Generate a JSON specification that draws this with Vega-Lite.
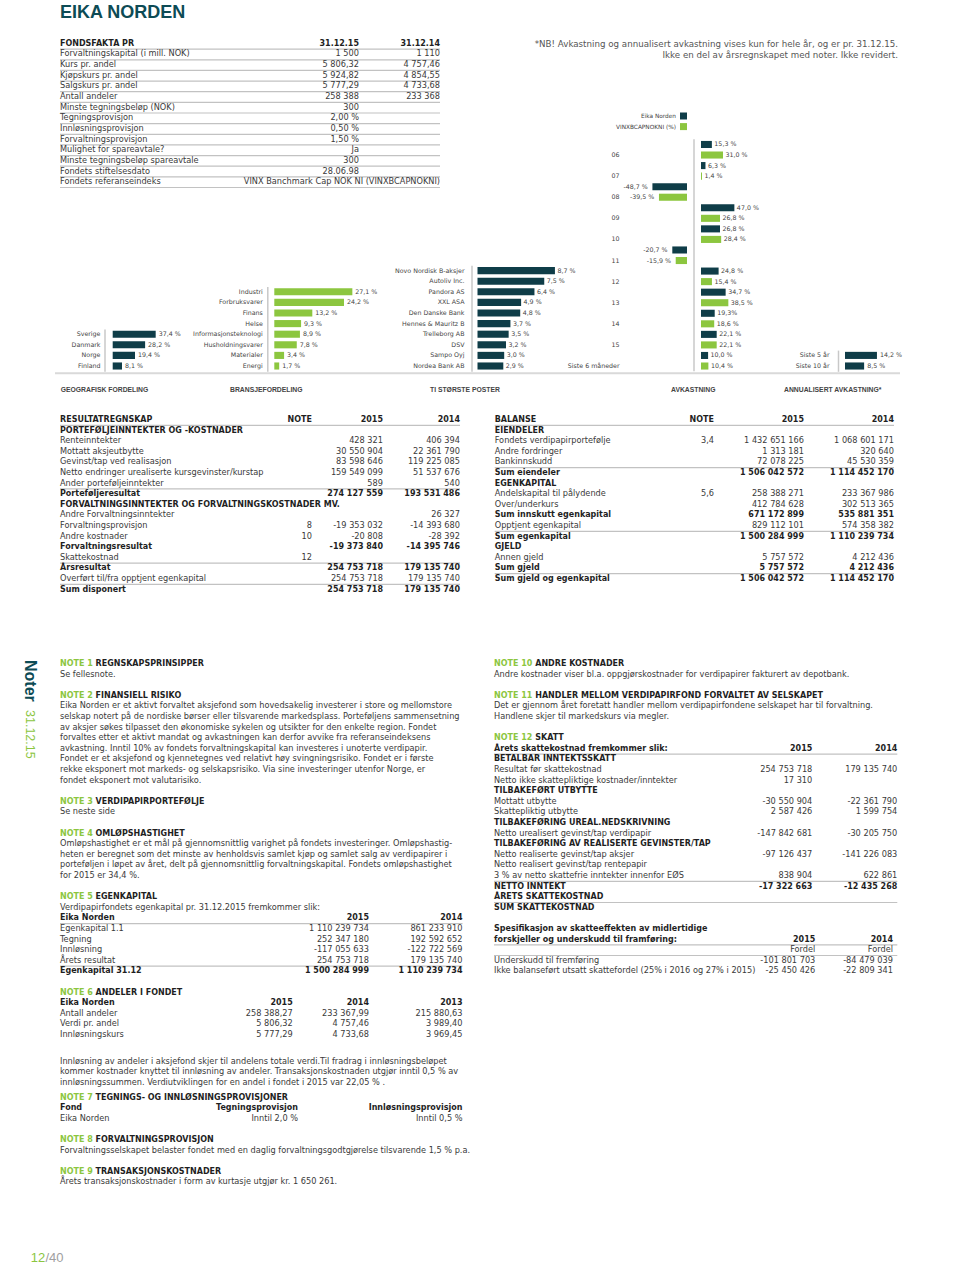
{
"$schema": "https://vega.github.io/schema/vega-lite/v6.json",
"width": 960,
"height": 1268,
"autosize": "none",
"padding": 0,
"background": "#ffffff",
"config": {"view": {"stroke": null}, "axis": {"grid": false}},
"resolve": {"scale": {"x": "independent", "y": "independent", "color": "independent"}, "axis": {"x": "independent", "y": "independent"}},
"datasets": {
"geo": [{"land":"Sverige","v":37.4,"lbl":"37,4 %"},{"land":"Danmark","v":28.2,"lbl":"28,2 %"},{"land":"Norge","v":19.4,"lbl":"19,4 %"},{"land":"Finland","v":8.1,"lbl":"8,1 %"}],
"bra": [{"b":"Industri","v":27.1,"lbl":"27,1 %"},{"b":"Forbruksvarer","v":24.2,"lbl":"24,2 %"},{"b":"Finans","v":13.2,"lbl":"13,2 %"},{"b":"Helse","v":9.3,"lbl":"9,3 %"},{"b":"Informasjonsteknologi","v":8.9,"lbl":"8,9 %"},{"b":"Husholdningsvarer","v":7.8,"lbl":"7,8 %"},{"b":"Materialer","v":3.4,"lbl":"3,4 %"},{"b":"Energi","v":1.7,"lbl":"1,7 %"}],
"top": [{"n":"Novo Nordisk B-aksjer","v":8.7,"lbl":"8,7 %"},{"n":"Autoliv Inc.","v":7.5,"lbl":"7,5 %"},{"n":"Pandora AS","v":6.4,"lbl":"6,4 %"},{"n":"XXL ASA","v":4.9,"lbl":"4,9 %"},{"n":"Den Danske Bank","v":4.8,"lbl":"4,8 %"},{"n":"Hennes & Mauritz B","v":3.7,"lbl":"3,7 %"},{"n":"Trelleborg AB","v":3.5,"lbl":"3,5 %"},{"n":"DSV","v":3.2,"lbl":"3,2 %"},{"n":"Sampo Oyj","v":3.0,"lbl":"3,0 %"},{"n":"Nordea Bank AB","v":2.9,"lbl":"2,9 %"}],
"avk": [
{"p":"06","s":"Eika Norden","v":15.3,"lbl":"15,3 %"},{"p":"06","s":"VINXBCAPNOKNI (%)","v":31.0,"lbl":"31,0 %"},
{"p":"07","s":"Eika Norden","v":6.3,"lbl":"6,3 %"},{"p":"07","s":"VINXBCAPNOKNI (%)","v":1.4,"lbl":"1,4 %"},
{"p":"08","s":"Eika Norden","v":-48.7,"lbl":"-48,7 %"},{"p":"08","s":"VINXBCAPNOKNI (%)","v":-39.5,"lbl":"-39,5 %"},
{"p":"09","s":"Eika Norden","v":47.0,"lbl":"47,0 %"},{"p":"09","s":"VINXBCAPNOKNI (%)","v":26.8,"lbl":"26,8 %"},
{"p":"10","s":"Eika Norden","v":26.8,"lbl":"26,8 %"},{"p":"10","s":"VINXBCAPNOKNI (%)","v":28.4,"lbl":"28,4 %"},
{"p":"11","s":"Eika Norden","v":-20.7,"lbl":"-20,7 %"},{"p":"11","s":"VINXBCAPNOKNI (%)","v":-15.9,"lbl":"-15,9 %"},
{"p":"12","s":"Eika Norden","v":24.8,"lbl":"24,8 %"},{"p":"12","s":"VINXBCAPNOKNI (%)","v":15.4,"lbl":"15,4 %"},
{"p":"13","s":"Eika Norden","v":34.7,"lbl":"34,7 %"},{"p":"13","s":"VINXBCAPNOKNI (%)","v":38.5,"lbl":"38,5 %"},
{"p":"14","s":"Eika Norden","v":19.3,"lbl":"19,3%"},{"p":"14","s":"VINXBCAPNOKNI (%)","v":18.6,"lbl":"18,6 %"},
{"p":"15","s":"Eika Norden","v":22.1,"lbl":"22,1 %"},{"p":"15","s":"VINXBCAPNOKNI (%)","v":22.1,"lbl":"22,1 %"},
{"p":"Siste 6 måneder","s":"Eika Norden","v":10.0,"lbl":"10,0 %"},{"p":"Siste 6 måneder","s":"VINXBCAPNOKNI (%)","v":10.4,"lbl":"10,4 %"}],
"ann": [{"p":"Siste 5 år","v":14.2,"lbl":"14,2 %"},{"p":"Siste 10 år","v":8.5,"lbl":"8,5 %"}],
"ff": [
{"r":0,"s":0,"v":"FONDSFAKTA PR","k":"h"},{"r":0,"s":1,"v":"31.12.15","k":"h"},{"r":0,"s":2,"v":"31.12.14","k":"h"},
{"r":1,"s":0,"v":"Forvaltningskapital (i mill. NOK)","k":"u"},{"r":1,"s":1,"v":"1 500","k":"u"},{"r":1,"s":2,"v":"1 110","k":"u"},
{"r":2,"s":0,"v":"Kurs pr. andel","k":"u"},{"r":2,"s":1,"v":"5 806,32","k":"u"},{"r":2,"s":2,"v":"4 757,46","k":"u"},
{"r":3,"s":0,"v":"Kjøpskurs pr. andel","k":"u"},{"r":3,"s":1,"v":"5 924,82","k":"u"},{"r":3,"s":2,"v":"4 854,55","k":"u"},
{"r":4,"s":0,"v":"Salgskurs pr. andel","k":"u"},{"r":4,"s":1,"v":"5 777,29","k":"u"},{"r":4,"s":2,"v":"4 733,68","k":"u"},
{"r":5,"s":0,"v":"Antall andeler","k":"u"},{"r":5,"s":1,"v":"258 388","k":"u"},{"r":5,"s":2,"v":"233 368","k":"u"},
{"r":6,"s":0,"v":"Minste tegningsbeløp (NOK)","k":"u"},{"r":6,"s":1,"v":"300","k":"u"},
{"r":7,"s":0,"v":"Tegningsprovisjon","k":"u"},{"r":7,"s":1,"v":"2,00 %","k":"u"},
{"r":8,"s":0,"v":"Innløsningsprovisjon","k":"u"},{"r":8,"s":1,"v":"0,50 %","k":"u"},
{"r":9,"s":0,"v":"Forvaltningsprovisjon","k":"u"},{"r":9,"s":1,"v":"1,50 %","k":"u"},
{"r":10,"s":0,"v":"Mulighet for spareavtale?","k":"u"},{"r":10,"s":1,"v":"Ja","k":"u"},
{"r":11,"s":0,"v":"Minste tegningsbeløp spareavtale","k":"u"},{"r":11,"s":1,"v":"300","k":"u"},
{"r":12,"s":0,"v":"Fondets stiftelsesdato","k":"u"},{"r":12,"s":1,"v":"28.06.98","k":"u"},
{"r":13,"s":0,"v":"Fondets referanseindeks","k":"u"},{"r":13,"s":2,"v":"VINX Banchmark Cap NOK NI (VINXBCAPNOKNI)","k":"u"}],
"res": [
{"r":0,"s":0,"v":"RESULTATREGNSKAP","k":"h"},{"r":0,"s":1,"v":"NOTE","k":"h"},{"r":0,"s":2,"v":"2015","k":"h"},{"r":0,"s":3,"v":"2014","k":"h"},
{"r":1,"s":0,"v":"PORTEFØLJEINNTEKTER OG -KOSTNADER","k":"b"},
{"r":2,"s":0,"v":"Renteinntekter","k":"n"},{"r":2,"s":2,"v":"428 321","k":"n"},{"r":2,"s":3,"v":"406 394","k":"n"},
{"r":3,"s":0,"v":"Mottatt aksjeutbytte","k":"n"},{"r":3,"s":2,"v":"30 550 904","k":"n"},{"r":3,"s":3,"v":"22 361 790","k":"n"},
{"r":4,"s":0,"v":"Gevinst/tap ved realisasjon","k":"n"},{"r":4,"s":2,"v":"83 598 646","k":"n"},{"r":4,"s":3,"v":"119 225 085","k":"n"},
{"r":5,"s":0,"v":"Netto endringer urealiserte kursgevinster/kurstap","k":"n"},{"r":5,"s":2,"v":"159 549 099","k":"n"},{"r":5,"s":3,"v":"51 537 676","k":"n"},
{"r":6,"s":0,"v":"Ander porteføljeinntekter","k":"n"},{"r":6,"s":2,"v":"589","k":"n"},{"r":6,"s":3,"v":"540","k":"n"},
{"r":7,"s":0,"v":"Porteføljeresultat","k":"t"},{"r":7,"s":2,"v":"274 127 559","k":"t"},{"r":7,"s":3,"v":"193 531 486","k":"t"},
{"r":8,"s":0,"v":"FORVALTNINGSINNTEKTER OG FORVALTNINGSKOSTNADER MV.","k":"b"},
{"r":9,"s":0,"v":"Andre Forvaltningsinntekter","k":"n"},{"r":9,"s":3,"v":"26 327","k":"n"},
{"r":10,"s":0,"v":"Forvaltningsprovisjon","k":"n"},{"r":10,"s":1,"v":"8","k":"n"},{"r":10,"s":2,"v":"-19 353 032","k":"n"},{"r":10,"s":3,"v":"-14 393 680","k":"n"},
{"r":11,"s":0,"v":"Andre kostnader","k":"n"},{"r":11,"s":1,"v":"10","k":"n"},{"r":11,"s":2,"v":"-20 808","k":"n"},{"r":11,"s":3,"v":"-28 392","k":"n"},
{"r":12,"s":0,"v":"Forvaltningsresultat","k":"b"},{"r":12,"s":2,"v":"-19 373 840","k":"b"},{"r":12,"s":3,"v":"-14 395 746","k":"b"},
{"r":13,"s":0,"v":"Skattekostnad","k":"n"},{"r":13,"s":1,"v":"12","k":"n"},
{"r":14,"s":0,"v":"Årsresultat","k":"t"},{"r":14,"s":2,"v":"254 753 718","k":"t"},{"r":14,"s":3,"v":"179 135 740","k":"t"},
{"r":15,"s":0,"v":"Overført til/fra opptjent egenkapital","k":"n"},{"r":15,"s":2,"v":"254 753 718","k":"n"},{"r":15,"s":3,"v":"179 135 740","k":"n"},
{"r":16,"s":0,"v":"Sum disponert","k":"t"},{"r":16,"s":2,"v":"254 753 718","k":"t"},{"r":16,"s":3,"v":"179 135 740","k":"t"}],
"bal": [
{"r":0,"s":0,"v":"BALANSE","k":"h"},{"r":0,"s":1,"v":"NOTE","k":"h"},{"r":0,"s":2,"v":"2015","k":"h"},{"r":0,"s":3,"v":"2014","k":"h"},
{"r":1,"s":0,"v":"EIENDELER","k":"b"},
{"r":2,"s":0,"v":"Fondets verdipapirportefølje","k":"n"},{"r":2,"s":1,"v":"3,4","k":"n"},{"r":2,"s":2,"v":"1 432 651 166","k":"n"},{"r":2,"s":3,"v":"1 068 601 171","k":"n"},
{"r":3,"s":0,"v":"Andre fordringer","k":"n"},{"r":3,"s":2,"v":"1 313 181","k":"n"},{"r":3,"s":3,"v":"320 640","k":"n"},
{"r":4,"s":0,"v":"Bankinnskudd","k":"n"},{"r":4,"s":2,"v":"72 078 225","k":"n"},{"r":4,"s":3,"v":"45 530 359","k":"n"},
{"r":5,"s":0,"v":"Sum eiendeler","k":"t"},{"r":5,"s":2,"v":"1 506 042 572","k":"t"},{"r":5,"s":3,"v":"1 114 452 170","k":"t"},
{"r":6,"s":0,"v":"EGENKAPITAL","k":"b"},
{"r":7,"s":0,"v":"Andelskapital til pålydende","k":"n"},{"r":7,"s":1,"v":"5,6","k":"n"},{"r":7,"s":2,"v":"258 388 271","k":"n"},{"r":7,"s":3,"v":"233 367 986","k":"n"},
{"r":8,"s":0,"v":"Over/underkurs","k":"n"},{"r":8,"s":2,"v":"412 784 628","k":"n"},{"r":8,"s":3,"v":"302 513 365","k":"n"},
{"r":9,"s":0,"v":"Sum innskutt egenkapital","k":"b"},{"r":9,"s":2,"v":"671 172 899","k":"b"},{"r":9,"s":3,"v":"535 881 351","k":"b"},
{"r":10,"s":0,"v":"Opptjent egenkapital","k":"n"},{"r":10,"s":2,"v":"829 112 101","k":"n"},{"r":10,"s":3,"v":"574 358 382","k":"n"},
{"r":11,"s":0,"v":"Sum egenkapital","k":"t"},{"r":11,"s":2,"v":"1 500 284 999","k":"t"},{"r":11,"s":3,"v":"1 110 239 734","k":"t"},
{"r":12,"s":0,"v":"GJELD","k":"b"},
{"r":13,"s":0,"v":"Annen gjeld","k":"n"},{"r":13,"s":2,"v":"5 757 572","k":"n"},{"r":13,"s":3,"v":"4 212 436","k":"n"},
{"r":14,"s":0,"v":"Sum gjeld","k":"b"},{"r":14,"s":2,"v":"5 757 572","k":"b"},{"r":14,"s":3,"v":"4 212 436","k":"b"},
{"r":15,"s":0,"v":"Sum gjeld og egenkapital","k":"t"},{"r":15,"s":2,"v":"1 506 042 572","k":"t"},{"r":15,"s":3,"v":"1 114 452 170","k":"t"}],
"nl": [
{"r":0,"s":0,"v":"NOTE 1","k":"nh"},{"r":0,"s":0,"v":"REGNSKAPSPRINSIPPER","k":"nt"},
{"r":1,"s":0,"v":"Se fellesnote.","k":"n"},
{"r":3,"s":0,"v":"NOTE 2","k":"nh"},{"r":3,"s":0,"v":"FINANSIELL RISIKO","k":"nt"},
{"r":4,"s":0,"v":"Eika Norden er et aktivt forvaltet aksjefond som hovedsakelig investerer i store og mellomstore","k":"n"},
{"r":5,"s":0,"v":"selskap notert på de nordiske børser eller tilsvarende markedsplass. Porteføljens sammensetning","k":"n"},
{"r":6,"s":0,"v":"av aksjer søkes tilpasset den økonomiske sykelen og utsikter for den enkelte region. Fondet","k":"n"},
{"r":7,"s":0,"v":"forvaltes etter et aktivt mandat og avkastningen kan derfor avvike fra referanseindeksens","k":"n"},
{"r":8,"s":0,"v":"avkastning. Inntil 10% av fondets forvaltningskapital kan investeres i unoterte verdipapir.","k":"n"},
{"r":9,"s":0,"v":"Fondet er et aksjefond og kjennetegnes ved relativt høy svingningsrisiko. Fondet er i første","k":"n"},
{"r":10,"s":0,"v":"rekke eksponert mot markeds- og selskapsrisiko. Via sine investeringer utenfor Norge, er","k":"n"},
{"r":11,"s":0,"v":"fondet eksponert mot valutarisiko.","k":"n"},
{"r":13,"s":0,"v":"NOTE 3","k":"nh"},{"r":13,"s":0,"v":"VERDIPAPIRPORTEFØLJE","k":"nt"},
{"r":14,"s":0,"v":"Se neste side","k":"n"},
{"r":16,"s":0,"v":"NOTE 4","k":"nh"},{"r":16,"s":0,"v":"OMLØPSHASTIGHET","k":"nt"},
{"r":17,"s":0,"v":"Omløpshastighet er et mål på gjennomsnittlig varighet på fondets investeringer. Omløpshastig-","k":"n"},
{"r":18,"s":0,"v":"heten er beregnet som det minste av henholdsvis samlet kjøp og samlet salg av verdipapirer i","k":"n"},
{"r":19,"s":0,"v":"porteføljen i løpet av året, delt på gjennomsnittlig forvaltningskapital. Fondets omløpshastighet","k":"n"},
{"r":20,"s":0,"v":"for 2015 er 34,4 %.","k":"n"},
{"r":22,"s":0,"v":"NOTE 5","k":"nh"},{"r":22,"s":0,"v":"EGENKAPITAL","k":"nt"},
{"r":23,"s":0,"v":"Verdipapirfondets egenkapital pr. 31.12.2015 fremkommer slik:","k":"n"},
{"r":24,"s":0,"v":"Eika Norden","k":"h"},{"r":24,"s":3,"v":"2015","k":"h"},{"r":24,"s":4,"v":"2014","k":"h"},
{"r":25,"s":0,"v":"Egenkapital 1.1","k":"n"},{"r":25,"s":3,"v":"1 110 239 734","k":"n"},{"r":25,"s":4,"v":"861 233 910","k":"n"},
{"r":26,"s":0,"v":"Tegning","k":"n"},{"r":26,"s":3,"v":"252 347 180","k":"n"},{"r":26,"s":4,"v":"192 592 652","k":"n"},
{"r":27,"s":0,"v":"Innløsning","k":"n"},{"r":27,"s":3,"v":"-117 055 633","k":"n"},{"r":27,"s":4,"v":"-122 722 569","k":"n"},
{"r":28,"s":0,"v":"Årets resultat","k":"n"},{"r":28,"s":3,"v":"254 753 718","k":"n"},{"r":28,"s":4,"v":"179 135 740","k":"n"},
{"r":29,"s":0,"v":"Egenkapital 31.12","k":"t"},{"r":29,"s":3,"v":"1 500 284 999","k":"t"},{"r":29,"s":4,"v":"1 110 239 734","k":"t"},
{"r":31,"s":0,"v":"NOTE 6","k":"nh"},{"r":31,"s":0,"v":"ANDELER I FONDET","k":"nt"},
{"r":32,"s":0,"v":"Eika Norden","k":"b"},{"r":32,"s":1,"v":"2015","k":"b"},{"r":32,"s":3,"v":"2014","k":"b"},{"r":32,"s":4,"v":"2013","k":"b"},
{"r":33,"s":0,"v":"Antall andeler","k":"n"},{"r":33,"s":1,"v":"258 388,27","k":"n"},{"r":33,"s":3,"v":"233 367,99","k":"n"},{"r":33,"s":4,"v":"215 880,63","k":"n"},
{"r":34,"s":0,"v":"Verdi pr. andel","k":"n"},{"r":34,"s":1,"v":"5 806,32","k":"n"},{"r":34,"s":3,"v":"4 757,46","k":"n"},{"r":34,"s":4,"v":"3 989,40","k":"n"},
{"r":35,"s":0,"v":"Innløsningskurs","k":"n"},{"r":35,"s":1,"v":"5 777,29","k":"n"},{"r":35,"s":3,"v":"4 733,68","k":"n"},{"r":35,"s":4,"v":"3 969,45","k":"n"},
{"r":37.5,"s":0,"v":"Innløsning av andeler i aksjefond skjer til andelens totale verdi.Til fradrag i innløsningsbeløpet","k":"n"},
{"r":38.5,"s":0,"v":"kommer kostnader knyttet til innløsning av andeler. Transaksjonskostnaden utgjør inntil 0,5 % av","k":"n"},
{"r":39.5,"s":0,"v":"innløsningssummen. Verdiutviklingen for en andel i fondet i 2015 var 22,05 % .","k":"n"},
{"r":40.9,"s":0,"v":"NOTE 7","k":"nh"},{"r":40.9,"s":0,"v":"TEGNINGS- OG INNLØSNINGSPROVISJONER","k":"nt"},
{"r":41.9,"s":0,"v":"Fond","k":"b"},{"r":41.9,"s":2,"v":"Tegningsprovisjon","k":"b"},{"r":41.9,"s":4,"v":"Innløsningsprovisjon","k":"b"},
{"r":42.9,"s":0,"v":"Eika Norden","k":"n"},{"r":42.9,"s":2,"v":"Inntil 2,0 %","k":"n"},{"r":42.9,"s":4,"v":"Inntil 0,5 %","k":"n"},
{"r":44.9,"s":0,"v":"NOTE 8","k":"nh"},{"r":44.9,"s":0,"v":"FORVALTNINGSPROVISJON","k":"nt"},
{"r":45.9,"s":0,"v":"Forvaltningsselskapet belaster fondet med en daglig forvaltningsgodtgjørelse tilsvarende 1,5 % p.a.","k":"n"},
{"r":47.9,"s":0,"v":"NOTE 9","k":"nh"},{"r":47.9,"s":0,"v":"TRANSAKSJONSKOSTNADER","k":"nt"},
{"r":48.9,"s":0,"v":"Årets transaksjonskostnader i form av kurtasje utgjør kr. 1 650 261.","k":"n"}],
"nr": [
{"r":0,"s":0,"v":"NOTE 10","k":"nh"},{"r":0,"s":0,"v":"ANDRE KOSTNADER","k":"nt"},
{"r":1,"s":0,"v":"Andre kostnader viser bl.a. oppgjørskostnader for verdipapirer fakturert av depotbank.","k":"n"},
{"r":3,"s":0,"v":"NOTE 11","k":"nh"},{"r":3,"s":0,"v":"HANDLER MELLOM VERDIPAPIRFOND FORVALTET AV SELSKAPET","k":"nt"},
{"r":4,"s":0,"v":"Det er gjennom året foretatt handler mellom verdipapirfondene selskapet har til forvaltning.","k":"n"},
{"r":5,"s":0,"v":"Handlene skjer til markedskurs via megler.","k":"n"},
{"r":7,"s":0,"v":"NOTE 12","k":"nh"},{"r":7,"s":0,"v":"SKATT","k":"nt"},
{"r":8,"s":0,"v":"Årets skattekostnad fremkommer slik:","k":"h"},{"r":8,"s":1,"v":"2015","k":"h"},{"r":8,"s":4,"v":"2014","k":"h"},
{"r":9,"s":0,"v":"BETALBAR INNTEKTSSKATT","k":"b"},
{"r":10,"s":0,"v":"Resultat før skattekostnad","k":"n"},{"r":10,"s":1,"v":"254 753 718","k":"n"},{"r":10,"s":4,"v":"179 135 740","k":"n"},
{"r":11,"s":0,"v":"Netto ikke skattepliktige kostnader/inntekter","k":"n"},{"r":11,"s":1,"v":"17 310","k":"n"},
{"r":12,"s":0,"v":"TILBAKEFØRT  UTBYTTE","k":"b"},
{"r":13,"s":0,"v":"Mottatt utbytte","k":"n"},{"r":13,"s":1,"v":"-30 550 904","k":"n"},{"r":13,"s":4,"v":"-22 361 790","k":"n"},
{"r":14,"s":0,"v":"Skattepliktig utbytte","k":"n"},{"r":14,"s":1,"v":"2 587 426","k":"n"},{"r":14,"s":4,"v":"1 599 754","k":"n"},
{"r":15,"s":0,"v":"TILBAKEFØRING UREAL.NEDSKRIVNING","k":"b"},
{"r":16,"s":0,"v":"Netto urealisert gevinst/tap verdipapir","k":"n"},{"r":16,"s":1,"v":"-147 842 681","k":"n"},{"r":16,"s":4,"v":"-30 205 750","k":"n"},
{"r":17,"s":0,"v":"TILBAKEFØRING AV REALISERTE GEVINSTER/TAP","k":"b"},
{"r":18,"s":0,"v":"Netto realiserte gevinst/tap aksjer","k":"n"},{"r":18,"s":1,"v":"-97 126 437","k":"n"},{"r":18,"s":4,"v":"-141 226 083","k":"n"},
{"r":19,"s":0,"v":"Netto realisert gevinst/tap rentepapir","k":"n"},
{"r":20,"s":0,"v":"3 % av netto skattefrie inntekter innenfor EØS","k":"n"},{"r":20,"s":1,"v":"838 904","k":"n"},{"r":20,"s":4,"v":"622 861","k":"n"},
{"r":21,"s":0,"v":"NETTO INNTEKT","k":"t"},{"r":21,"s":1,"v":"-17 322 663","k":"t"},{"r":21,"s":4,"v":"-12 435 268","k":"t"},
{"r":22,"s":0,"v":"ÅRETS SKATTEKOSTNAD","k":"b"},
{"r":23,"s":0,"v":"SUM SKATTEKOSTNAD","k":"t"},
{"r":25,"s":0,"v":"Spesifikasjon av skatteeffekten av midlertidige","k":"b"},
{"r":26,"s":0,"v":"forskjeller og underskudd til framføring:","k":"h"},{"r":26,"s":2,"v":"2015","k":"h"},{"r":26,"s":3,"v":"2014","k":"h"},
{"r":27,"s":0,"v":"","k":"u"},{"r":27,"s":2,"v":"Fordel","k":"u"},{"r":27,"s":3,"v":"Fordel","k":"u"},
{"r":28,"s":0,"v":"Underskudd til fremføring","k":"n"},{"r":28,"s":2,"v":"-101 801 703","k":"n"},{"r":28,"s":3,"v":"-84 479 039","k":"n"},
{"r":29,"s":0,"v":"Ikke balanseført utsatt skattefordel (25% i 2016 og 27% i 2015)","k":"n"},{"r":29,"s":2,"v":"-25 450 426","k":"n"},{"r":29,"s":3,"v":"-22 809 341","k":"n"}]
},
"layer": [
{"data": {"values": [{"t": "EIKA NORDEN"}]},
 "mark": {"type": "text", "align": "left", "baseline": "alphabetic", "font": "Liberation Sans", "fontSize": 18, "fontWeight": "bold", "color": "#0d4b55"},
 "encoding": {"x": {"datum": 0, "type": "quantitative", "scale": {"domain": [0, 1], "range": [60, 900]}, "axis": null},
  "y": {"datum": 1, "type": "quantitative", "scale": {"domain": [0, 1], "range": [0, 18.3]}, "axis": null},
  "text": {"field": "t"}}},
{"data": {"values": [{"i": 0, "t": "*NB! Avkastning og annualisert avkastning vises kun for hele år, og er pr. 31.12.15."}, {"i": 1, "t": "Ikke en del av årsregnskapet med noter. Ikke revidert."}]},
 "mark": {"type": "text", "align": "right", "font": "DejaVu Sans", "fontSize": 8.7, "color": "#555555"},
 "encoding": {"x": {"datum": 1, "type": "quantitative", "scale": {"domain": [0, 1], "range": [440, 898]}, "axis": null},
  "y": {"field": "i", "type": "ordinal", "scale": {"type": "band", "range": [38.7, 59.9], "paddingInner": 0, "paddingOuter": 0}, "axis": null},
  "text": {"field": "t"}}},
{"data": {"name": "ff"},
 "encoding": {"x": {"field": "s", "type": "quantitative", "scale": {"domain": [0, 1, 2], "range": [60, 359, 440]}, "axis": null},
  "y": {"field": "r", "type": "quantitative", "scale": {"domain": [-0.5, 13.5], "range": [38.5, 187.5]}, "axis": null}},
 "layer": [
  {"transform": [{"filter": "datum.s == 0 && (datum.k == 'h' || datum.k == 'u')"}], "mark": {"type": "rule", "color": "#c2c2c2", "strokeWidth": 1.2, "yOffset": 5.32, "y2Offset": 5.32}, "encoding": {"x": {"datum": 0, "type": "quantitative"}, "x2": {"datum": 2}}},
  {"transform": [{"filter": "datum.s == 0 && (datum.k == 'n' || datum.k == 'u')"}], "mark": {"type": "text", "align": "left", "font": "DejaVu Sans", "fontSize": 8.2, "color": "#3a3a3a"}, "encoding": {"text": {"field": "v"}}},
  {"transform": [{"filter": "datum.s == 0 && (datum.k == 'h' || datum.k == 't' || datum.k == 'b')"}], "mark": {"type": "text", "align": "left", "font": "DejaVu Sans", "fontSize": 8, "fontWeight": "bold", "color": "#1f1f1f"}, "encoding": {"text": {"field": "v"}}},
  {"transform": [{"filter": "datum.s > 0 && (datum.k == 'n' || datum.k == 'u')"}], "mark": {"type": "text", "align": "right", "font": "DejaVu Sans", "fontSize": 8.2, "color": "#3a3a3a"}, "encoding": {"text": {"field": "v"}}},
  {"transform": [{"filter": "datum.s > 0 && (datum.k == 'h' || datum.k == 't' || datum.k == 'b')"}], "mark": {"type": "text", "align": "right", "font": "DejaVu Sans", "fontSize": 8, "fontWeight": "bold", "color": "#1f1f1f"}, "encoding": {"text": {"field": "v"}}}
 ]},
{"data": {"name": "geo"},
 "encoding": {"y": {"field": "land", "type": "nominal", "sort": null, "scale": {"range": [328.9, 371.3], "paddingInner": 0.33, "paddingOuter": 0.165},
   "axis": {"orient": "left", "offset": -104.5, "title": null, "ticks": false, "domainColor": "#c8c8c8", "domainWidth": 1.5, "labelPadding": 4.5, "labelFont": "DejaVu Sans", "labelFontSize": 6.3, "labelColor": "#444444"}},
  "x": {"field": "v", "type": "quantitative", "scale": {"domain": [0, 52.2], "range": [112.7, 172.7]}, "axis": null}},
 "layer": [
  {"mark": {"type": "bar", "color": "#0f3d48"}},
  {"mark": {"type": "text", "align": "left", "dx": 3, "font": "DejaVu Sans", "fontSize": 6.3, "color": "#444444"}, "encoding": {"text": {"field": "lbl"}}}
 ]},
{"data": {"name": "bra"},
 "encoding": {"y": {"field": "b", "type": "nominal", "sort": null, "scale": {"range": [286.5, 371.3], "paddingInner": 0.33, "paddingOuter": 0.165},
   "axis": {"orient": "left", "offset": -267.3, "title": null, "ticks": false, "domainColor": "#c8c8c8", "domainWidth": 1.5, "labelPadding": 5, "labelFont": "DejaVu Sans", "labelFontSize": 6.3, "labelColor": "#444444"}},
  "x": {"field": "v", "type": "quantitative", "scale": {"domain": [0, 31.25], "range": [274.3, 364.3]}, "axis": null}},
 "layer": [
  {"mark": {"type": "bar", "color": "#8cc63f"}},
  {"mark": {"type": "text", "align": "left", "dx": 3, "font": "DejaVu Sans", "fontSize": 6.3, "color": "#444444"}, "encoding": {"text": {"field": "lbl"}}}
 ]},
{"data": {"name": "top"},
 "encoding": {"y": {"field": "n", "type": "nominal", "sort": null, "scale": {"range": [265.3, 371.3], "paddingInner": 0.33, "paddingOuter": 0.165},
   "axis": {"orient": "left", "offset": -471.5, "title": null, "ticks": false, "domainColor": "#c8c8c8", "domainWidth": 1.5, "labelPadding": 7.5, "labelFont": "DejaVu Sans", "labelFontSize": 6.3, "labelColor": "#444444"}},
  "x": {"field": "v", "type": "quantitative", "scale": {"domain": [0, 10], "range": [477.5, 566.5]}, "axis": null}},
 "layer": [
  {"mark": {"type": "bar", "color": "#0f3d48"}},
  {"mark": {"type": "text", "align": "left", "dx": 2.5, "font": "DejaVu Sans", "fontSize": 6.3, "color": "#444444"}, "encoding": {"text": {"field": "lbl"}}}
 ]},
{"data": {"name": "avk"},
 "encoding": {"y": {"field": "p", "type": "nominal", "sort": null, "scale": {"domain": ["06","07","08","09","10","11","12","13","14","15","Siste 6 måneder"], "range": [139.2, 371.3], "paddingInner": 0, "paddingOuter": 0},
   "axis": {"orient": "left", "offset": -622, "title": null, "domain": false, "ticks": false, "labelPadding": 3, "labelOffset": 5.3, "labelFont": "DejaVu Sans", "labelFontSize": 6.3, "labelColor": "#444444"}},
  "x": {"field": "v", "type": "quantitative", "scale": {"domain": [-101.4, 101.4], "range": [622, 766]}, "axis": null}},
 "layer": [
  {"transform": [{"filter": "datum.v >= 0"}], "mark": {"type": "bar", "xOffset": 7, "x2Offset": 7},
   "encoding": {"yOffset": {"field": "s", "type": "nominal", "sort": null, "scale": {"domain": ["Eika Norden", "VINXBCAPNOKNI (%)"], "paddingInner": 0.33, "paddingOuter": 0.165}},
    "color": {"field": "s", "type": "nominal", "scale": {"domain": ["Eika Norden", "VINXBCAPNOKNI (%)"], "range": ["#0f3d48", "#8cc63f"]}, "legend": null}}},
  {"transform": [{"filter": "datum.v < 0"}], "mark": {"type": "bar", "xOffset": -7, "x2Offset": -7},
   "encoding": {"yOffset": {"field": "s", "type": "nominal", "sort": null, "scale": {"domain": ["Eika Norden", "VINXBCAPNOKNI (%)"], "paddingInner": 0.33, "paddingOuter": 0.165}},
    "color": {"field": "s", "type": "nominal", "scale": {"domain": ["Eika Norden", "VINXBCAPNOKNI (%)"], "range": ["#0f3d48", "#8cc63f"]}, "legend": null}}},
  {"transform": [{"filter": "datum.s == 'Eika Norden' && datum.v >= 0"}], "mark": {"type": "text", "align": "left", "dx": 9.5, "dy": -5.28, "font": "DejaVu Sans", "fontSize": 6.3, "color": "#444444"}, "encoding": {"text": {"field": "lbl"}}},
  {"transform": [{"filter": "datum.s != 'Eika Norden' && datum.v >= 0"}], "mark": {"type": "text", "align": "left", "dx": 9.5, "dy": 5.28, "font": "DejaVu Sans", "fontSize": 6.3, "color": "#444444"}, "encoding": {"text": {"field": "lbl"}}},
  {"transform": [{"filter": "datum.s == 'Eika Norden' && datum.v < 0"}], "mark": {"type": "text", "align": "right", "dx": -11.7, "dy": -5.28, "font": "DejaVu Sans", "fontSize": 6.3, "color": "#444444"}, "encoding": {"text": {"field": "lbl"}}},
  {"transform": [{"filter": "datum.s != 'Eika Norden' && datum.v < 0"}], "mark": {"type": "text", "align": "right", "dx": -11.7, "dy": 5.28, "font": "DejaVu Sans", "fontSize": 6.3, "color": "#444444"}, "encoding": {"text": {"field": "lbl"}}}
 ]},
{"data": {"values": [{"z": 0}]},
 "mark": {"type": "rule", "color": "#c8c8c8", "strokeWidth": 1.5},
 "encoding": {"x": {"datum": 0, "type": "quantitative", "scale": {"domain": [-101.4, 101.4], "range": [622, 766]}, "axis": null},
  "y": {"datum": 0, "type": "quantitative", "scale": {"domain": [0, 1], "range": [139.2, 371.3]}, "axis": null},
  "y2": {"datum": 1}}},
{"data": {"values": [{"s": "Eika Norden"}, {"s": "VINXBCAPNOKNI (%)"}]},
 "encoding": {"y": {"field": "s", "type": "nominal", "sort": null, "scale": {"type": "band", "range": [110.7, 131.9], "paddingInner": 0, "paddingOuter": 0}, "axis": null},
  "x": {"datum": 1, "type": "quantitative", "scale": {"domain": [0, 1], "range": [622, 687]}, "axis": null}},
 "layer": [
  {"mark": {"type": "square", "size": 49, "opacity": 1, "xOffset": -3.5},
   "encoding": {"color": {"field": "s", "type": "nominal", "scale": {"domain": ["Eika Norden", "VINXBCAPNOKNI (%)"], "range": ["#0f3d48", "#8cc63f"]}, "legend": null}}},
  {"mark": {"type": "text", "align": "right", "dx": -11, "font": "DejaVu Sans", "fontSize": 5.8, "color": "#444444"}, "encoding": {"text": {"field": "s"}}}
 ]},
{"data": {"name": "ann"},
 "encoding": {"y": {"field": "p", "type": "nominal", "sort": null, "scale": {"range": [350.1, 371.3], "paddingInner": 0.33, "paddingOuter": 0.165},
   "axis": {"orient": "left", "offset": -838, "title": null, "ticks": false, "domainColor": "#c8c8c8", "domainWidth": 1.5, "labelPadding": 9, "labelFont": "DejaVu Sans", "labelFontSize": 6.3, "labelColor": "#444444"}},
  "x": {"field": "v", "type": "quantitative", "scale": {"domain": [0, 20], "range": [845, 890]}, "axis": null}},
 "layer": [
  {"mark": {"type": "bar", "color": "#0f3d48"}},
  {"mark": {"type": "text", "align": "left", "dx": 3, "font": "DejaVu Sans", "fontSize": 6.3, "color": "#444444"}, "encoding": {"text": {"field": "lbl"}}}
 ]},
{"data": {"values": [{"z": 0}]},
 "mark": {"type": "rule", "color": "#d9d9d9", "strokeWidth": 2},
 "encoding": {"x": {"datum": 0, "type": "quantitative", "scale": {"domain": [0, 1], "range": [55, 900]}, "axis": null},
  "x2": {"datum": 1},
  "y": {"datum": 0, "type": "quantitative", "scale": {"domain": [0, 1], "range": [373.3, 380]}, "axis": null}}},
{"data": {"values": [{"i": 0, "k": "GEOGRAFISK FORDELING"}, {"i": 1, "k": "BRANSJEFORDELING"}, {"i": 2, "k": "TI STØRSTE POSTER"}, {"i": 3, "k": "AVKASTNING"}, {"i": 4, "k": "ANNUALISERT AVKASTNING*"}]},
 "mark": {"type": "text", "align": "left", "font": "Liberation Sans", "fontSize": 6.8, "fontWeight": "bold", "color": "#444444"},
 "encoding": {"x": {"field": "i", "type": "quantitative", "scale": {"domain": [0, 1, 2, 3, 4], "range": [60.7, 230, 430, 671, 784]}, "axis": null},
  "y": {"datum": 0, "type": "quantitative", "scale": {"domain": [0, 1], "range": [390, 400]}, "axis": null},
  "text": {"field": "k"}}},
{"data": {"name": "res"},
 "encoding": {"x": {"field": "s", "type": "quantitative", "scale": {"domain": [0, 1, 2, 3], "range": [60, 312, 383, 460]}, "axis": null},
  "y": {"field": "r", "type": "quantitative", "scale": {"domain": [-0.5, 16.5], "range": [414.7, 594.9]}, "axis": null}},
 "layer": [
  {"transform": [{"filter": "datum.s == 0 && (datum.k == 'h' || datum.k == 'u')"}], "mark": {"type": "rule", "color": "#c2c2c2", "strokeWidth": 1.2, "yOffset": 5.3, "y2Offset": 5.3}, "encoding": {"x": {"datum": 0, "type": "quantitative"}, "x2": {"datum": 3}}},
  {"transform": [{"filter": "datum.s == 0 && datum.k == 't'"}], "mark": {"type": "rule", "color": "#c2c2c2", "strokeWidth": 1.2, "yOffset": -5.3, "y2Offset": -5.3}, "encoding": {"x": {"datum": 0, "type": "quantitative"}, "x2": {"datum": 3}}},
  {"transform": [{"filter": "datum.s == 0 && (datum.k == 'n' || datum.k == 'u')"}], "mark": {"type": "text", "align": "left", "font": "DejaVu Sans", "fontSize": 8.2, "color": "#3a3a3a"}, "encoding": {"text": {"field": "v"}}},
  {"transform": [{"filter": "datum.s == 0 && (datum.k == 'h' || datum.k == 't' || datum.k == 'b')"}], "mark": {"type": "text", "align": "left", "font": "DejaVu Sans", "fontSize": 8, "fontWeight": "bold", "color": "#1f1f1f"}, "encoding": {"text": {"field": "v"}}},
  {"transform": [{"filter": "datum.s > 0 && (datum.k == 'n' || datum.k == 'u')"}], "mark": {"type": "text", "align": "right", "font": "DejaVu Sans", "fontSize": 8.2, "color": "#3a3a3a"}, "encoding": {"text": {"field": "v"}}},
  {"transform": [{"filter": "datum.s > 0 && (datum.k == 'h' || datum.k == 't' || datum.k == 'b')"}], "mark": {"type": "text", "align": "right", "font": "DejaVu Sans", "fontSize": 8, "fontWeight": "bold", "color": "#1f1f1f"}, "encoding": {"text": {"field": "v"}}}
 ]},
{"data": {"name": "bal"},
 "encoding": {"x": {"field": "s", "type": "quantitative", "scale": {"domain": [0, 1, 2, 3], "range": [494.7, 714, 804, 894]}, "axis": null},
  "y": {"field": "r", "type": "quantitative", "scale": {"domain": [-0.5, 15.5], "range": [414.7, 584.3]}, "axis": null}},
 "layer": [
  {"transform": [{"filter": "datum.s == 0 && (datum.k == 'h' || datum.k == 'u')"}], "mark": {"type": "rule", "color": "#c2c2c2", "strokeWidth": 1.2, "yOffset": 5.3, "y2Offset": 5.3}, "encoding": {"x": {"datum": 0, "type": "quantitative"}, "x2": {"datum": 3}}},
  {"transform": [{"filter": "datum.s == 0 && datum.k == 't'"}], "mark": {"type": "rule", "color": "#c2c2c2", "strokeWidth": 1.2, "yOffset": -5.3, "y2Offset": -5.3}, "encoding": {"x": {"datum": 0, "type": "quantitative"}, "x2": {"datum": 3}}},
  {"transform": [{"filter": "datum.s == 0 && (datum.k == 'n' || datum.k == 'u')"}], "mark": {"type": "text", "align": "left", "font": "DejaVu Sans", "fontSize": 8.2, "color": "#3a3a3a"}, "encoding": {"text": {"field": "v"}}},
  {"transform": [{"filter": "datum.s == 0 && (datum.k == 'h' || datum.k == 't' || datum.k == 'b')"}], "mark": {"type": "text", "align": "left", "font": "DejaVu Sans", "fontSize": 8, "fontWeight": "bold", "color": "#1f1f1f"}, "encoding": {"text": {"field": "v"}}},
  {"transform": [{"filter": "datum.s > 0 && (datum.k == 'n' || datum.k == 'u')"}], "mark": {"type": "text", "align": "right", "font": "DejaVu Sans", "fontSize": 8.2, "color": "#3a3a3a"}, "encoding": {"text": {"field": "v"}}},
  {"transform": [{"filter": "datum.s > 0 && (datum.k == 'h' || datum.k == 't' || datum.k == 'b')"}], "mark": {"type": "text", "align": "right", "font": "DejaVu Sans", "fontSize": 8, "fontWeight": "bold", "color": "#1f1f1f"}, "encoding": {"text": {"field": "v"}}}
 ]},
{"data": {"values": [{"a": "Noter", "b": "31.12.15"}]},
 "encoding": {"x": {"datum": 0, "type": "quantitative", "scale": {"domain": [0, 1], "range": [30, 40]}, "axis": null},
  "y": {"datum": 0, "type": "quantitative", "scale": {"domain": [0, 1], "range": [660, 760]}, "axis": null}},
 "layer": [
  {"mark": {"type": "text", "angle": 90, "align": "left", "baseline": "middle", "font": "Liberation Sans", "fontSize": 16, "fontWeight": "bold", "color": "#0d4b55"}, "encoding": {"text": {"field": "a"}}},
  {"mark": {"type": "text", "angle": 90, "align": "left", "baseline": "middle", "dx": 50, "font": "Liberation Sans", "fontSize": 12.5, "color": "#8cc63f"}, "encoding": {"text": {"field": "b"}}}
 ]},
{"data": {"name": "nl"},
 "encoding": {"x": {"field": "s", "type": "quantitative", "scale": {"domain": [0, 1, 2, 3, 4], "range": [60, 292.7, 298, 369, 462.5]}, "axis": null},
  "y": {"field": "r", "type": "quantitative", "scale": {"domain": [-0.5, 49.5], "range": [658.7, 1188.7]}, "axis": null}},
 "layer": [
  {"transform": [{"filter": "datum.s == 0 && (datum.k == 'h' || datum.k == 'u')"}], "mark": {"type": "rule", "color": "#c2c2c2", "strokeWidth": 1.2, "yOffset": 5.3, "y2Offset": 5.3}, "encoding": {"x": {"datum": 0, "type": "quantitative"}, "x2": {"datum": 4}}},
  {"transform": [{"filter": "datum.s == 0 && datum.k == 't'"}], "mark": {"type": "rule", "color": "#c2c2c2", "strokeWidth": 1.2, "yOffset": -5.3, "y2Offset": -5.3}, "encoding": {"x": {"datum": 0, "type": "quantitative"}, "x2": {"datum": 4}}},
  {"transform": [{"filter": "datum.k == 'nh'"}], "mark": {"type": "text", "align": "left", "font": "DejaVu Sans", "fontSize": 8, "fontWeight": "bold", "color": "#8cc63f"}, "encoding": {"text": {"field": "v"}}},
  {"transform": [{"filter": "datum.k == 'nt'"}], "mark": {"type": "text", "align": "left", "dx": 35.5, "font": "DejaVu Sans", "fontSize": 8, "fontWeight": "bold", "color": "#1f1f1f"}, "encoding": {"text": {"field": "v"}}},
  {"transform": [{"filter": "datum.s == 0 && (datum.k == 'n' || datum.k == 'u')"}], "mark": {"type": "text", "align": "left", "font": "DejaVu Sans", "fontSize": 8.2, "color": "#3a3a3a"}, "encoding": {"text": {"field": "v"}}},
  {"transform": [{"filter": "datum.s == 0 && (datum.k == 'h' || datum.k == 't' || datum.k == 'b')"}], "mark": {"type": "text", "align": "left", "font": "DejaVu Sans", "fontSize": 8, "fontWeight": "bold", "color": "#1f1f1f"}, "encoding": {"text": {"field": "v"}}},
  {"transform": [{"filter": "datum.s > 0 && (datum.k == 'n' || datum.k == 'u')"}], "mark": {"type": "text", "align": "right", "font": "DejaVu Sans", "fontSize": 8.2, "color": "#3a3a3a"}, "encoding": {"text": {"field": "v"}}},
  {"transform": [{"filter": "datum.s > 0 && (datum.k == 'h' || datum.k == 't' || datum.k == 'b')"}], "mark": {"type": "text", "align": "right", "font": "DejaVu Sans", "fontSize": 8, "fontWeight": "bold", "color": "#1f1f1f"}, "encoding": {"text": {"field": "v"}}}
 ]},
{"data": {"name": "nr"},
 "encoding": {"x": {"field": "s", "type": "quantitative", "scale": {"domain": [0, 1, 2, 3, 4], "range": [494, 812.3, 815.3, 893, 897.3]}, "axis": null},
  "y": {"field": "r", "type": "quantitative", "scale": {"domain": [-0.5, 29.5], "range": [658.7, 976.7]}, "axis": null}},
 "layer": [
  {"transform": [{"filter": "datum.s == 0 && (datum.k == 'h' || datum.k == 'u')"}], "mark": {"type": "rule", "color": "#c2c2c2", "strokeWidth": 1.2, "yOffset": 5.3, "y2Offset": 5.3}, "encoding": {"x": {"datum": 0, "type": "quantitative"}, "x2": {"datum": 4}}},
  {"transform": [{"filter": "datum.s == 0 && datum.k == 't'"}], "mark": {"type": "rule", "color": "#c2c2c2", "strokeWidth": 1.2, "yOffset": -5.3, "y2Offset": -5.3}, "encoding": {"x": {"datum": 0, "type": "quantitative"}, "x2": {"datum": 4}}},
  {"transform": [{"filter": "datum.k == 'nh'"}], "mark": {"type": "text", "align": "left", "font": "DejaVu Sans", "fontSize": 8, "fontWeight": "bold", "color": "#8cc63f"}, "encoding": {"text": {"field": "v"}}},
  {"transform": [{"filter": "datum.k == 'nt'"}], "mark": {"type": "text", "align": "left", "dx": 41.2, "font": "DejaVu Sans", "fontSize": 8, "fontWeight": "bold", "color": "#1f1f1f"}, "encoding": {"text": {"field": "v"}}},
  {"transform": [{"filter": "datum.s == 0 && (datum.k == 'n' || datum.k == 'u')"}], "mark": {"type": "text", "align": "left", "font": "DejaVu Sans", "fontSize": 8.2, "color": "#3a3a3a"}, "encoding": {"text": {"field": "v"}}},
  {"transform": [{"filter": "datum.s == 0 && (datum.k == 'h' || datum.k == 't' || datum.k == 'b')"}], "mark": {"type": "text", "align": "left", "font": "DejaVu Sans", "fontSize": 8, "fontWeight": "bold", "color": "#1f1f1f"}, "encoding": {"text": {"field": "v"}}},
  {"transform": [{"filter": "datum.s > 0 && (datum.k == 'n' || datum.k == 'u')"}], "mark": {"type": "text", "align": "right", "font": "DejaVu Sans", "fontSize": 8.2, "color": "#3a3a3a"}, "encoding": {"text": {"field": "v"}}},
  {"transform": [{"filter": "datum.s > 0 && (datum.k == 'h' || datum.k == 't' || datum.k == 'b')"}], "mark": {"type": "text", "align": "right", "font": "DejaVu Sans", "fontSize": 8, "fontWeight": "bold", "color": "#1f1f1f"}, "encoding": {"text": {"field": "v"}}}
 ]},
{"data": {"values": [{"a": "12", "b": "/40"}]},
 "encoding": {"x": {"datum": 0, "type": "quantitative", "scale": {"domain": [0, 1], "range": [30.7, 40]}, "axis": null},
  "y": {"datum": 0, "type": "quantitative", "scale": {"domain": [0, 1], "range": [1258, 1268]}, "axis": null}},
 "layer": [
  {"mark": {"type": "text", "align": "left", "font": "Liberation Sans", "fontSize": 13, "color": "#8cc63f"}, "encoding": {"text": {"field": "a"}}},
  {"mark": {"type": "text", "align": "left", "dx": 14.8, "font": "Liberation Sans", "fontSize": 13, "color": "#a0a0a0"}, "encoding": {"text": {"field": "b"}}}
 ]}
]
}
